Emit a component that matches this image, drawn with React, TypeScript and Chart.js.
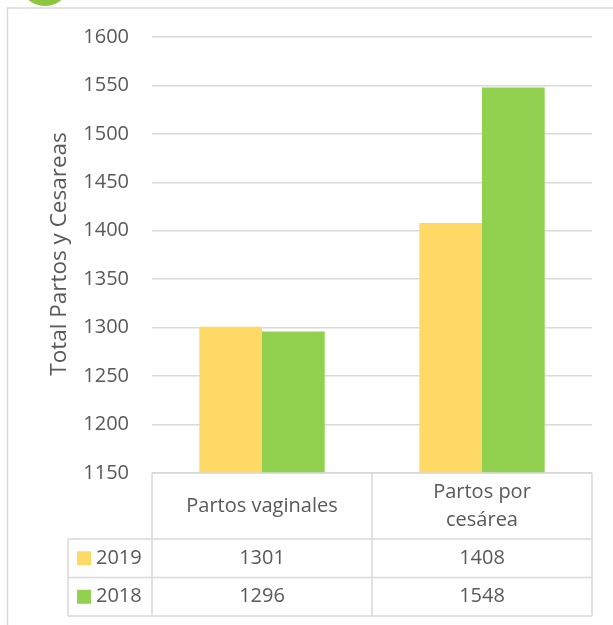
import React, { useEffect, useRef } from "react";
import { Chart, registerables } from "chart.js";

Chart.register(...registerables);

const categories: string[][] = [["Partos vaginales"], ["Partos por", "cesárea"]];
const seriesNames = ["2019", "2018"];
const values2019 = [1301, 1408];
const values2018 = [1296, 1548];
const yMin = 1150;
const yMax = 1600;
const yStep = 50;
const yTitle = "Total Partos y Cesareas";

const COLORS = ["#FFD966", "#92D050"];
const TEXT = "#595959";
const GRID = "#D9D9D9";
const FONT = "'Open Sans', sans-serif";

export default function App() {
  const ref = useRef<HTMLCanvasElement | null>(null);

  useEffect(() => {
    if (!ref.current) return;
    const series = [values2019, values2018];

    const decor = {
      id: "decor",
      beforeDraw(chart: any) {
        const ctx = chart.ctx;
        ctx.save();
        ctx.fillStyle = "#fff";
        ctx.fillRect(0, 0, chart.width, chart.height);
        ctx.restore();
      },
      afterDraw(chart: any) {
        const ctx = chart.ctx;
        const area = chart.chartArea;
        const xs = chart.scales.x;
        ctx.save();
        // outer frame
        ctx.strokeStyle = GRID;
        ctx.lineWidth = 1.5;
        ctx.strokeRect(7.5, 8, 800, 800);
        // green badge at top
        ctx.fillStyle = "#8CC63F";
        ctx.beginPath();
        ctx.arc(45, -20, 26, 0, Math.PI * 2);
        ctx.fill();

        // y title
        ctx.fillStyle = TEXT;
        ctx.font = `22.5px ${FONT}`;
        ctx.textAlign = "center";
        ctx.textBaseline = "middle";
        ctx.translate(60, 254);
        ctx.rotate(-Math.PI / 2);
        ctx.fillText(yTitle, 0, 0);
        ctx.setTransform(1, 0, 0, 1, 0, 0);

        // data table
        const n = categories.length;
        const colW = (area.right - area.left) / n;
        const top = area.bottom;
        const headerBottom = 539;
        const rowH = 38.5;
        const legendLeft = 68;
        const tableBottom = headerBottom + rowH * series.length;
        ctx.strokeStyle = GRID;
        ctx.lineWidth = 1.5;
        ctx.beginPath();
        ctx.moveTo(area.left, top);
        ctx.lineTo(area.right, top);
        for (let i = 0; i <= n; i++) {
          const x = area.left + colW * i;
          ctx.moveTo(x, top);
          ctx.lineTo(x, tableBottom);
        }
        ctx.moveTo(legendLeft, headerBottom);
        ctx.lineTo(legendLeft, tableBottom);
        for (let r = 0; r <= series.length; r++) {
          const y = headerBottom + rowH * r;
          ctx.moveTo(legendLeft, y);
          ctx.lineTo(area.right, y);
        }
        ctx.stroke();

        ctx.fillStyle = TEXT;
        ctx.font = `20px ${FONT}`;
        ctx.textAlign = "center";
        ctx.textBaseline = "middle";
        for (let i = 0; i < n; i++) {
          const cx = xs.getPixelForValue(i);
          const lines = categories[i];
          const lh = 28;
          const cy = (top + headerBottom) / 2;
          lines.forEach((ln, k) => {
            ctx.fillText(ln, cx, cy + (k - (lines.length - 1) / 2) * lh);
          });
        }
        series.forEach((vals, r) => {
          const cy = headerBottom + rowH * r + rowH / 2;
          ctx.fillStyle = COLORS[r];
          ctx.fillRect(77, cy - 7, 14, 14);
          ctx.fillStyle = TEXT;
          ctx.textAlign = "left";
          ctx.fillText(seriesNames[r], 96, cy);
          ctx.textAlign = "center";
          vals.forEach((v, i) => {
            ctx.fillText(String(v), xs.getPixelForValue(i), cy);
          });
        });
        ctx.restore();
      },
    };

    const chart = new Chart(ref.current, {
      type: "bar",
      data: {
        labels: categories.map((c) => c.join(" ")),
        datasets: series.map((vals, i) => ({
          label: seriesNames[i],
          data: vals,
          backgroundColor: COLORS[i],
          borderWidth: 0,
          barPercentage: 1,
          categoryPercentage: 0.57,
        })),
      },
      options: {
        responsive: false,
        animation: false,
        devicePixelRatio: 1,
        layout: { padding: { top: 37, right: 21, bottom: 152, left: 0 } },
        plugins: { legend: { display: false }, tooltip: { enabled: false } },
        scales: {
          x: { display: false },
          y: {
            min: yMin,
            max: yMax,
            afterFit: (scale: any) => {
              scale.width = 152;
            },
            ticks: {
              stepSize: yStep,
              color: TEXT,
              font: { family: FONT, size: 20 },
              padding: 23,
              callback: (v: any) => String(v),
            },
            grid: { color: GRID, lineWidth: 1.5, drawTicks: false },
            border: { display: false },
          },
        },
      },
      plugins: [decor],
    });
    return () => chart.destroy();
  }, []);

  return (
    <div style={{ position: "absolute", left: 0, top: 0, width: 613, height: 625 }}>
      <canvas ref={ref} width={613} height={625} style={{ display: "block" }} />
    </div>
  );
}
